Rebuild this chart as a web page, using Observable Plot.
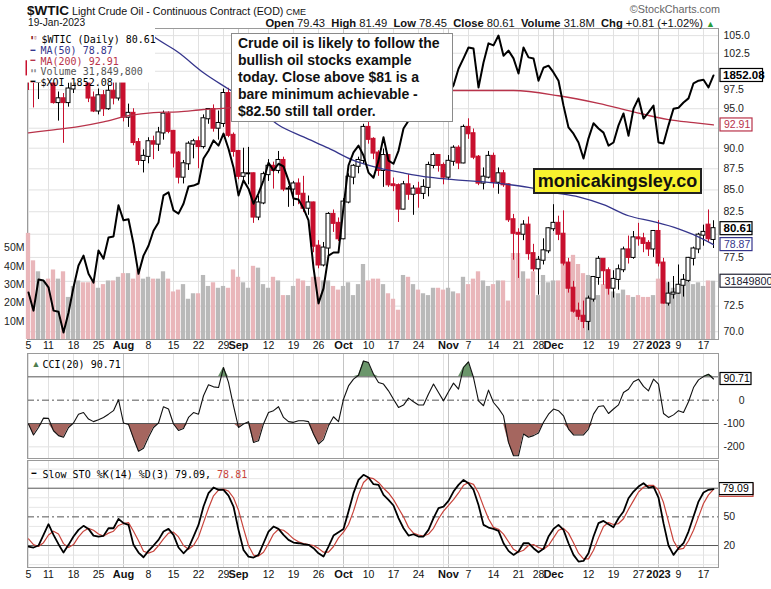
<!DOCTYPE html>
<html><head><meta charset="utf-8">
<script src="https://cdn.jsdelivr.net/npm/d3@7"></script>
<script src="https://cdn.jsdelivr.net/npm/@observablehq/plot@0.6"></script>
<style>
body{margin:0;background:#fff;}
#wrap{position:relative;width:771px;height:589px;overflow:hidden;background:#fff;font-family:"Liberation Sans",Arial,sans-serif;color:#111;}
.layer{position:absolute;left:0;}
.layer svg{display:block;}
.hdr{position:absolute;white-space:nowrap;line-height:1;}
#note{position:absolute;left:231px;top:33px;width:214px;height:86px;border:1px solid #8a8a8a;background:#fff;padding:1px 0 0 6px;font:bold 14px/17px "Liberation Sans",Arial,sans-serif;color:#111;}
#brand{position:absolute;left:533px;top:168px;width:165px;height:22px;border:2px solid #222;background:#f8f22e;font:bold 18px/22px "Liberation Sans",Arial,sans-serif;text-align:center;color:#111;}
</style></head><body><div id="wrap"></div>
<script>
// ---------- data (trading-day index 0 = 5 Jul 2022 ... 137 = 19 Jan 2023) ----------
const open  = [101.3,99.5,98.5,102.7,104.8,104.1,95.8,96.3,95.8,97.6,102.6,104.2,102.3,96.4,94.7,96.7,95.0,97.3,96.4,98.6,93.9,94.4,90.7,88.5,89.0,90.8,90.5,91.9,94.3,92.1,89.4,86.5,88.1,90.5,90.8,90.2,93.7,94.9,92.5,93.1,97.0,91.6,89.6,86.6,86.9,86.9,81.9,83.5,86.8,87.8,87.3,88.5,85.1,85.1,85.7,84.5,82.9,83.5,78.7,76.7,78.5,82.2,81.2,79.5,83.6,86.5,87.8,88.5,92.6,91.1,89.4,87.3,89.1,85.6,85.5,82.8,85.6,84.5,85.1,84.6,85.3,87.9,89.1,87.9,86.5,88.4,90.0,88.2,92.6,91.8,88.9,85.8,86.5,89.0,85.9,86.9,85.6,81.6,80.1,80.0,81.0,77.9,76.3,77.2,78.2,80.6,81.2,80.0,76.9,74.3,72.0,71.5,71.0,73.2,75.4,77.3,76.1,74.3,75.2,76.2,78.3,77.5,79.6,79.5,79.0,78.4,80.3,76.9,72.8,73.7,73.8,74.6,75.1,77.4,78.4,79.9,81.0,79.43];
const high  = [102.6,101.0,103.0,105.0,105.4,104.5,97.2,97.0,98.4,103.0,104.6,105.5,102.4,97.2,97.6,97.4,98.0,98.5,99.0,99.2,95.6,95.0,91.2,89.8,91.3,91.5,92.6,94.7,94.6,92.2,89.6,88.5,90.8,91.1,91.4,94.2,95.0,95.5,94.7,97.6,97.7,91.9,89.7,90.0,90.1,87.0,84.3,87.1,88.6,88.3,89.6,88.9,85.4,86.0,86.3,86.6,84.3,83.6,79.3,79.1,82.4,82.7,81.8,84.0,86.9,88.0,88.9,93.0,93.6,91.3,89.7,89.9,89.2,86.4,85.7,86.0,86.8,85.5,85.9,86.2,88.3,89.4,89.2,88.2,89.1,90.3,90.3,92.9,93.7,92.4,89.1,87.6,89.6,89.4,87.6,87.3,85.7,82.2,80.6,81.5,81.9,78.9,77.6,79.5,80.7,83.3,82.0,82.6,77.4,75.0,72.8,73.0,73.5,75.5,77.6,77.3,76.4,76.1,76.7,78.6,79.8,80.3,81.2,80.1,79.3,80.4,81.5,77.4,74.9,75.5,76.7,75.7,77.5,78.6,80.1,81.0,82.7,81.49];
const low   = [97.4,95.1,96.2,101.7,102.3,95.6,93.4,90.6,95.2,97.0,100.6,101.3,95.8,94.5,94.2,94.0,94.8,95.5,96.0,93.3,92.6,90.3,87.9,87.0,88.1,88.6,89.6,91.0,91.8,87.6,85.7,85.7,87.3,88.7,87.5,89.9,93.0,92.0,91.0,92.6,91.3,88.9,86.2,86.1,85.6,81.2,81.5,83.3,86.0,85.1,86.9,84.8,83.0,83.1,83.3,82.4,82.1,78.0,76.3,76.5,77.3,80.2,79.2,79.4,83.4,85.6,86.9,88.0,90.5,88.6,86.6,85.3,85.3,84.8,81.3,82.7,83.8,82.1,82.9,83.9,84.2,87.5,87.1,85.6,86.1,87.8,87.4,88.1,91.1,88.6,85.5,85.0,86.3,85.2,84.5,85.3,81.3,77.2,75.3,79.3,77.2,76.0,73.6,76.7,77.9,80.3,79.3,76.6,73.8,71.8,71.1,70.3,70.1,72.9,74.6,74.6,73.6,73.3,74.1,75.9,76.8,77.3,78.7,78.0,77.6,77.5,76.5,72.7,72.5,73.2,73.7,73.4,74.9,76.6,77.9,78.7,79.1,78.45];
const close = [99.5,98.5,102.7,104.8,104.1,95.8,96.3,95.8,97.6,102.6,104.2,102.3,96.4,94.7,96.7,95.0,97.3,96.4,98.6,93.9,94.4,90.7,88.5,89.0,90.8,90.5,91.9,94.3,92.1,89.4,86.5,88.1,90.5,90.8,90.2,93.7,94.9,92.5,93.1,97.0,91.6,89.6,86.6,86.9,86.9,81.9,83.5,86.8,87.8,87.3,88.5,85.1,85.1,85.7,84.5,82.9,83.5,78.7,76.7,78.5,82.2,81.2,79.5,83.6,86.5,87.8,88.5,92.6,91.1,89.4,87.3,89.1,85.6,85.5,82.8,85.6,84.5,85.1,84.6,85.3,87.9,89.1,87.9,86.5,88.4,90.0,88.2,92.6,91.8,88.9,85.8,86.5,89.0,85.9,86.9,85.6,81.6,80.1,80.0,81.0,77.9,76.3,77.2,78.2,80.6,81.2,80.0,76.9,74.3,72.0,71.5,71.0,73.2,75.4,77.3,76.1,74.3,75.2,76.2,78.3,77.5,79.6,79.5,79.0,78.4,80.3,76.9,72.8,73.7,73.8,74.6,75.1,77.4,78.4,79.9,80.2,79.5,80.61];
const volumeM = [58,43,37,32,33,38,33,37,23,29,32,31,31,32,28,30,32,32,34,36,36,33,38,33,34,33,33,37,33,26,27,30,22,25,25,35,29,31,28,29,28,38,34,31,28,40,39,30,28,34,32,24,24,29,33,32,29,34,34,32,32,29,27,29,31,24,30,41,32,33,33,30,25,22,16,35,34,30,27,25,24,28,28,27,28,26,25,34,30,33,37,32,29,30,32,32,21,47,47,37,33,37,24,35,31,32,32,43,36,46,41,36,35,33,24,30,29,26,25,27,24,23,24,23,23,24,33,38,31,28,30,33,35,30,31,29,32,31.85];
const xoi = [1434,1399,1459,1457,1444,1399,1397,1357,1395,1444,1486,1505,1470,1453,1515,1499,1540,1542,1602,1573,1575,1528,1470,1505,1524,1553,1569,1621,1627,1592,1586,1605,1638,1640,1644,1692,1707,1727,1717,1740,1711,1675,1621,1650,1634,1605,1625,1650,1684,1669,1682,1677,1650,1615,1613,1596,1573,1482,1413,1442,1505,1511,1511,1598,1679,1704,1717,1698,1665,1655,1688,1733,1688,1682,1707,1750,1765,1781,1775,1794,1813,1823,1808,1804,1819,1833,1865,1885,1906,1904,1829,1877,1914,1910,1929,1890,1900,1885,1856,1906,1887,1885,1842,1867,1871,1858,1842,1794,1752,1740,1723,1692,1731,1760,1750,1742,1717,1723,1756,1779,1736,1788,1808,1769,1781,1794,1723,1721,1756,1788,1790,1800,1808,1837,1842,1844,1829,1852.08];
const cci = [-102,-149,-117,-77,-78,-131,-152,-159,-117,-98,-60,-53,-81,-92,-84,-74,-60,-45,2,-98,-104,-164,-219,-206,-159,-117,-98,-28,-38,-102,-130,-121,-74,-53,-60,19,66,57,54,140,76,-24,-117,-102,-92,-181,-174,-102,-53,-45,-28,-74,-92,-95,-88,-88,-92,-145,-188,-169,-110,-71,-92,4,61,90,107,168,161,111,76,69,40,4,-31,-21,9,-7,-21,-21,26,69,33,-3,36,73,47,140,164,97,-3,-24,43,-10,-35,-67,-181,-238,-238,-145,-159,-152,-141,-95,-60,-38,-45,-67,-124,-149,-149,-149,-124,-60,-27,-24,-57,-38,-20,33,47,79,90,59,40,90,69,-57,-74,-63,-45,-53,-7,54,87,101,111,90.71];
const stoK = [18.9,17.9,20.0,31.1,42.3,31.1,21.4,12.6,20.7,29.4,36.4,40.6,37.4,30.4,29.4,30.1,38.1,38.1,47.9,43.4,41.6,20.7,12.6,7.7,14.4,20.0,25.9,34.6,37.4,31.1,17.9,11.9,17.2,29.4,41.6,60.8,74.8,80.7,78.3,78.3,72.3,60.8,36.4,15.4,8.4,7.4,10.2,22.4,34.6,39.9,37.4,31.1,25.9,23.1,22.4,21.4,20.7,17.2,11.9,8.4,18.9,30.4,33.9,37.4,55.6,74.8,88.7,94.0,91.2,84.2,83.5,73.0,67.8,61.9,48.6,38.1,30.4,31.8,29.4,29.4,36.4,48.6,59.1,60.8,66.7,76.5,83.5,88.7,85.2,78.3,62.5,41.6,38.8,37.4,35.3,22.4,14.4,10.2,13.7,22.4,22.4,17.2,13.0,16.5,29.4,37.4,41.6,36.4,22.4,10.2,3.2,3.9,11.9,29.4,43.4,45.8,42.3,39.2,48.6,55.6,69.5,76.5,81.7,85.2,80.7,81.7,70.2,43.4,20.0,10.2,17.2,22.4,34.6,50.3,66.0,75.5,78.3,79.09];
const stoD = [27,21,19,23,31,35,32,22,18,21,29,35,38,36,32,30,33,35,41,43,44,35,25,14,12,14,20,27,33,34,29,20,16,20,29,44,59,72,78,79,77,70,57,38,20,10,9,13,22,32,37,36,32,27,24,22,21,20,17,13,13,19,28,34,42,56,73,86,91,90,86,80,75,68,59,50,39,33,31,30,32,38,48,56,62,68,75,83,86,84,75,61,48,39,37,32,24,16,13,15,20,21,18,16,20,28,36,38,33,23,12,6,6,15,28,40,44,42,43,48,58,67,76,81,83,83,78,65,45,25,16,17,25,36,50,64,73,78.81];
const ma50Idx = [18,22,25,30,35,40,45,50,55,60,65,70,75,80,85,90,95,100,105,110,115,120,125,130,133,137];
const ma50Val = [108.5,106.8,104.9,102.6,99.8,97.6,95.5,92.9,91.4,90.0,88.5,87.6,87.0,86.5,86.2,86.0,85.7,85.3,84.7,84.2,83.3,82.05,81.4,80.6,79.95,78.87];
const ma200Idx = [0,5,10,15,20,25,30,35,40,50,60,70,80,88,97,106,114,121,128,133,137];
const ma200Val = [91.9,92.3,92.7,93.3,94.1,94.5,94.6,94.9,95.1,96.0,96.7,97.2,97.4,97.4,97.4,96.7,95.7,94.6,93.6,93.2,92.91];
const dayTickIdx = [0,4,9,14,24,29,34,39,48,53,58,68,73,78,88,93,98,102,112,117,122,130,135];
const dayTickLabel = ["5","11","18","25","8","15","22","29","12","19","26","10","17","24","7","14","21","28","12","19","27","9","17"];
const monthTickIdx = [19,42,63,84,105,126];
const monthTickLabel = ["Aug","Sep","Oct","Nov","Dec","2023"];
const weekGridIdx = [0,4,9,14,24,29,34,39,44,48,53,58,68,73,78,83,88,93,98,102,107,112,117,122,130,135];
const priceGrid = [70,72.5,75,77.5,80,82.5,85,87.5,90,92.5,95,97.5,100,102.5,105];
const priceLabels = [70,72.5,77.5,82.5,85,87.5,90,95,97.5,102.5,105];
const volTicks = [10,20,30,40,50];

// ---------- build ----------
const RED="#c8102e", NAVY="#35358c", MA200C="#b8334a", VPINK="#e9b6ba", VGREY="#b9b9b9";
const wrap=document.getElementById("wrap");
const N=close.length;
const bars=d3.range(N).map(i=>({i,o:open[i],h:high[i],l:low[i],c:close[i],v:volumeM[i],
  down: i===0 ? close[i]<open[i] : close[i]<close[i-1], hollow: close[i]>=open[i]}));
const ma50=ma50Idx.map((i,k)=>({i,v:ma50Val[k]}));
const ma200=ma200Idx.map((i,k)=>({i,v:ma200Val[k]}));
const xoiD=xoi.map((v,i)=>({i,v}));
const cciD=cci.map((v,i)=>({i,v}));
const kD=stoK.map((v,i)=>({i,v})), dD=stoD.map((v,i)=>({i,v}));
const dayTicks=dayTickIdx.map((i,k)=>({i,t:dayTickLabel[k]}));
const monTicks=monthTickIdx.map((i,k)=>({i,t:monthTickLabel[k]}));

const FONT="'Liberation Sans', Arial, sans-serif", MONO="'DejaVu Sans Mono', monospace";
const X={domain:[-0.2,138],axis:null};
const base={width:771,marginLeft:27,marginRight:53,color:{type:"identity"},
  style:{background:"transparent",fontFamily:FONT,fontSize:"10.5px",overflow:"visible"}};
const MAIN={...base,height:360,marginTop:28,marginBottom:21,x:X};
const PRICE={type:"log",domain:[69.26,106.03],axis:null};
function layer(top,svg){const d=document.createElement("div");d.className="layer";d.style.top=top+"px";d.appendChild(svg);wrap.appendChild(d);}
const vGrid=()=>[Plot.ruleX(weekGridIdx,{x:d=>d,stroke:"#e1e1e1"}),Plot.ruleX(monthTickIdx,{x:d=>d,stroke:"#c4c4c4"})];
const xLabels=(dy)=>[
  Plot.text(dayTicks,{x:"i",text:"t",frameAnchor:"bottom",dy,fontSize:10.5,fill:"#111"}),
  Plot.text(monTicks,{x:"i",text:"t",frameAnchor:"bottom",dy,fontSize:11,fontWeight:"bold",fill:"#111"})];
const box=(v,x1,x2,txt,color,bold,tx,h=6.5,fs)=>[
  Plot.rect([v],{x1,x2,y1:d=>d,y2:d=>d,insetTop:-h,insetBottom:-h,fill:"#fff",stroke:color,strokeWidth:1.2}),
  Plot.text([v],{x:tx,y:d=>d,text:()=>txt,textAnchor:"start",fill:color,fontWeight:bold?"bold":"normal",fontSize:fs||(bold?11.5:10.5)})];

// A: grid + axes for price panel
layer(0,Plot.plot({...MAIN,y:PRICE,marks:[
  Plot.ruleY(priceGrid,{y:d=>d,stroke:"#e1e1e1"}),
  ...vGrid(),
  Plot.text(priceLabels,{y:d=>d,text:d=>d.toFixed(1),frameAnchor:"right",dx:5,textAnchor:"start",fill:"#222"}),
  ...xLabels(9),
  Plot.frame({stroke:"#9a9a9a"})
]}));
// B: volume
layer(0,Plot.plot({...MAIN,y:{domain:[0,170],axis:null},marks:[
  Plot.rect(bars,{x1:d=>d.i-0.43,x2:d=>d.i+0.43,y1:0,y2:"v",fill:d=>d.down?VPINK:VGREY}),
  Plot.text(volTicks,{y:d=>d,text:d=>d+"M",frameAnchor:"left",dx:-3,textAnchor:"end",fill:"#222"}),
  ...box(31.85,138.4,152,"31849800","#223",false,139.2,6.5,10.8)
]}));
// C: candles, moving averages, legend
const leg=(txt,dy,fill,dx=13,fs=10)=>Plot.text([txt],{text:d=>d,frameAnchor:"top-left",dx,dy,textAnchor:"start",fontFamily:MONO,fontSize:fs,fill});
layer(0,Plot.plot({...MAIN,y:PRICE,marks:[
  Plot.ruleX(bars,{x:"i",y1:"l",y2:"h",stroke:d=>d.down?RED:"#000",strokeWidth:1}),
  Plot.rect(bars,{x1:d=>d.i-0.4,x2:d=>d.i+0.4,y1:d=>Math.min(d.o,d.c),y2:d=>Math.max(d.o,d.c),
    insetTop:-0.5,insetBottom:-0.5,fill:d=>d.hollow?"#fff":(d.down?RED:"#000"),stroke:d=>d.down?RED:"#000",strokeWidth:1}),
  Plot.line(ma200,{x:"i",y:"v",stroke:MA200C,strokeWidth:1.3,curve:"monotone-x",clip:true}),
  Plot.line(ma50,{x:"i",y:"v",stroke:NAVY,strokeWidth:1.3,curve:"monotone-x",clip:true}),
  // legend block (white background like the source chart)
  Plot.rect([0],{x1:-0.2,x2:25.4,y1:106.03,y2:98.4,fill:"#fff"}),
  leg("▮▯",7,"#8b1a1a",3,5.5), leg("$WTIC (Daily) 80.61",7,"#000",14),
  leg("━",18.7,NAVY,3,8), leg("MA(50) 78.87",18.7,NAVY),
  leg("━",29.3,MA200C,3,8), leg("MA(200) 92.91",29.3,MA200C),
  leg("▮▮",39.7,"#888",3,5), leg("Volume 31,849,800",39.7,"#555"),
  leg("━",50.3,"#000",3,8), leg("$XOI 1852.08",50.3,"#000"),
  ...box(92.91,138.4,144.8,"92.91",MA200C,false,139.1),
  ...box(78.87,138.4,144.8,"78.87",NAVY,false,139.1),
  ...box(80.61,138.4,144.8,"80.61","#000",true,139.0)
]}));
// D: $XOI overlay
layer(0,Plot.plot({...MAIN,y:{domain:[1343.4,1942.6],axis:null},marks:[
  Plot.line(xoiD,{x:"i",y:"v",stroke:"#000",strokeWidth:2,clip:true}),
  ...box(1852.08,138.4,146.9,"1852.08","#000",true,138.9)
]}));
// CCI panel
layer(340,Plot.plot({...base,height:120,marginTop:13,marginBottom:2,x:X,y:{domain:[-250,200],axis:null},marks:[
  ...vGrid(),
  Plot.ruleY([-200,200],{y:d=>d,stroke:"#e1e1e1"}),
  Plot.areaY(cciD,{x:"i",y1:100,y2:d=>Math.max(d.v,100),fill:"#6b966b"}),
  Plot.areaY(cciD,{x:"i",y1:-100,y2:d=>Math.min(d.v,-100),fill:"#a5665f"}),
  Plot.ruleY([100,-100],{y:d=>d,stroke:"#555"}),
  Plot.ruleY([0],{y:d=>d,stroke:"#555",strokeDasharray:"7,3,2,3"}),
  Plot.line(cciD,{x:"i",y:"v",stroke:"#111",strokeWidth:1.1}),
  Plot.text([0,-100,-200],{y:d=>d,text:d=>String(d),frameAnchor:"right",dx:26,textAnchor:"end",fill:"#222"}),
  ...box(90.71,138.4,144.6,"90.71","#000",false,139.0,6),
  Plot.text(["▲"],{text:d=>d,frameAnchor:"top-left",dx:4,dy:7.5,textAnchor:"start",fontSize:9,fill:"#4f7d4f"}),
  Plot.text(["CCI(20) 90.71"],{text:d=>d,frameAnchor:"top-left",dx:15,dy:7.5,textAnchor:"start",fontFamily:MONO,fontSize:10,fill:"#000"}),
  Plot.frame({stroke:"#9a9a9a"})
]}));
// Slow stochastic panel
const stoLeg="Slow STO %K(14) %D(3) 79.09, ";
layer(455,Plot.plot({...base,height:134,marginTop:5,marginBottom:22,x:X,y:{domain:[-3,109],axis:null},marks:[
  ...vGrid(),
  Plot.ruleY([0,10,30,40,60,70,90,100],{y:d=>d,stroke:"#e6e6e6"}),
  Plot.ruleY([80,20],{y:d=>d,stroke:"#555"}),
  Plot.ruleY([50],{y:d=>d,stroke:"#555",strokeDasharray:"7,3,2,3"}),
  Plot.line(dD,{x:"i",y:"v",stroke:"#c8443c",strokeWidth:1.2}),
  Plot.line(kD,{x:"i",y:"v",stroke:"#000",strokeWidth:1.8}),
  Plot.text([20,50],{y:d=>d,text:d=>String(d),frameAnchor:"right",dx:5,textAnchor:"start",fill:"#222"}),
  Plot.rect([78.81],{x1:138.2,x2:145.0,y1:d=>d,y2:d=>d,insetTop:-5,insetBottom:-7.5,fill:"#fff",stroke:"#c8443c",strokeWidth:1.2}),
  ...box(79.09,138.2,145.0,"79.09","#000",false,138.8,6),
  Plot.text(["━"],{text:d=>d,frameAnchor:"top-left",dx:4,dy:10,textAnchor:"start",fontFamily:MONO,fontSize:8,fill:"#000"}),
  Plot.text([stoLeg],{text:d=>d,frameAnchor:"top-left",dx:15,dy:10,textAnchor:"start",fontFamily:MONO,fontSize:10,fill:"#000"}),
  Plot.text(["78.81"],{text:d=>d,frameAnchor:"top-left",dx:15+stoLeg.length*6.02,dy:10,textAnchor:"start",fontFamily:MONO,fontSize:10,fill:"#c8443c"}),
  ...xLabels(10),
  Plot.frame({stroke:"#9a9a9a"})
]}));

// ---------- header & annotations (text) ----------
function html(s){wrap.insertAdjacentHTML("beforeend",s);}
html('<div class="hdr" style="left:27px;top:2px;"><span style="font-weight:bold;font-size:13.5px;">$WTIC</span><span style="font-size:10.7px;"> Light Crude Oil - Continuous Contract (EOD)</span><span style="font-size:9px;"> CME</span></div>');
html('<div class="hdr" style="left:28px;top:18px;font-size:10.2px;">19-Jan-2023</div>');
html('<div class="hdr" style="right:51px;top:4px;font-size:10.8px;color:#666;">©StockCharts.com</div>');
html('<div class="hdr" style="right:56px;top:17.5px;font-size:11.2px;"><b>Open</b> 79.43 &nbsp;<b>High</b> 81.49 &nbsp;<b>Low</b> 78.45 &nbsp;<b>Close</b> 80.61 &nbsp;<b>Volume</b> 31.8M &nbsp;<b>Chg</b> +0.81 (+1.02%) <span style="color:#2a9d3a;font-size:9px;">▲</span></div>');
html('<div id="note">Crude oil is likely to follow the<br>bullish oil stocks example<br>today. Close above $81 is a<br>bare minimum achievable -<br>$82.50 still tall order.</div>');
html('<div id="brand">monicakingsley.co</div>');
</script></body></html>
